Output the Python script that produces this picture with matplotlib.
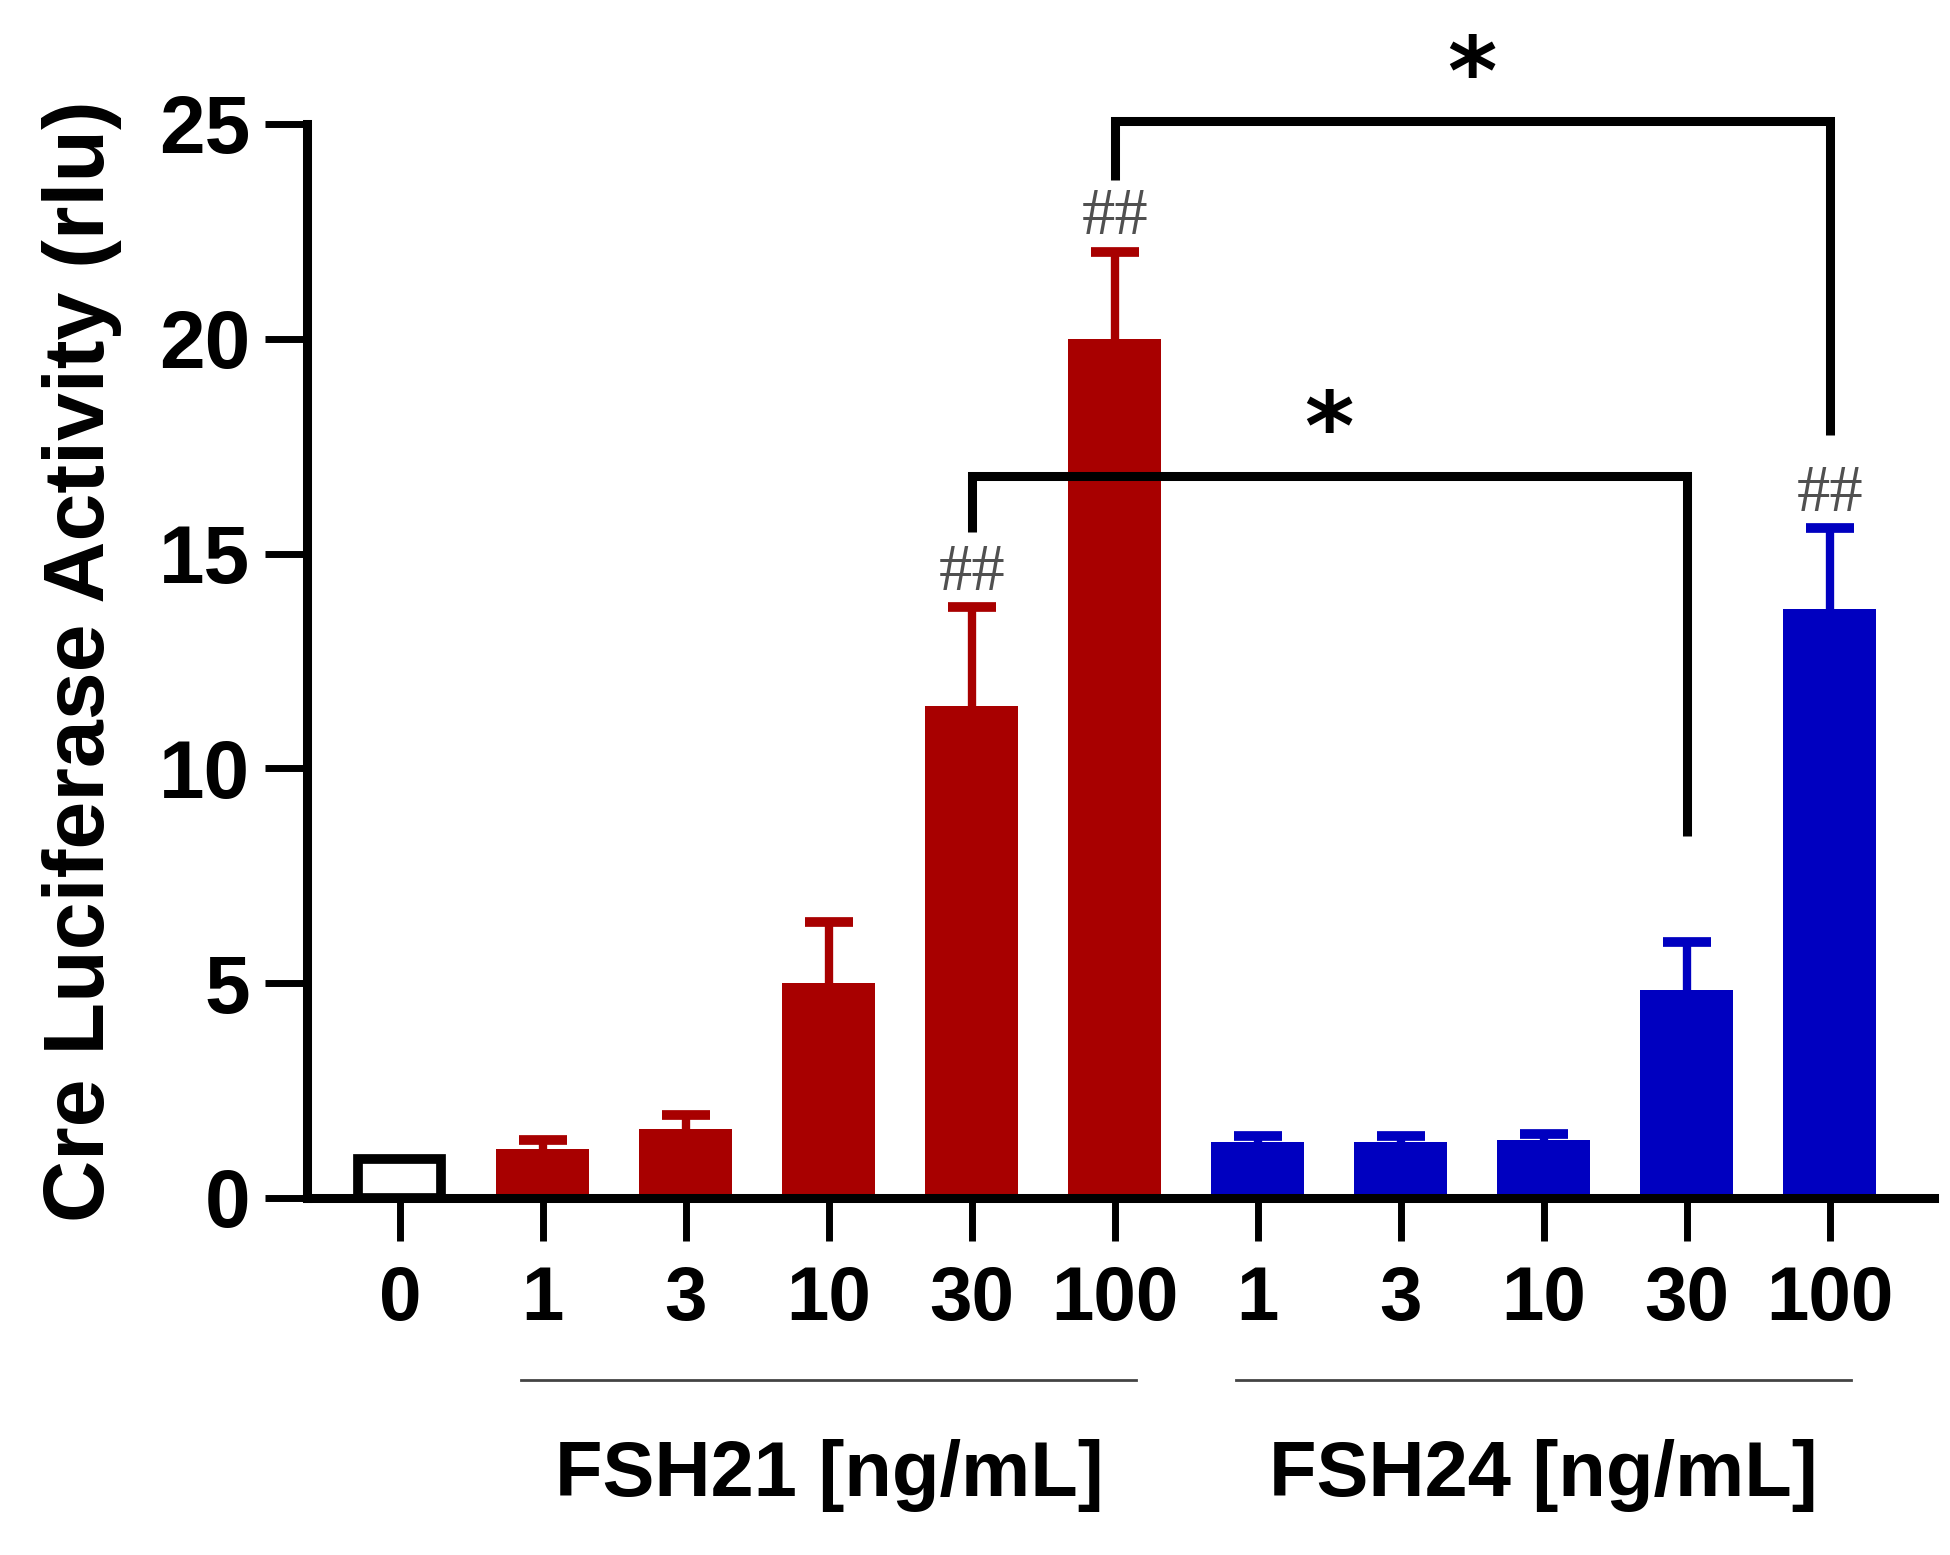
import numpy as np
import matplotlib
matplotlib.use('Agg')
import matplotlib.pyplot as plt
from matplotlib import transforms

plt.rcParams['font.family'] = ['Liberation Sans', 'DejaVu Sans']

# ---------------- data ----------------
tick_labels = ['0', '1', '3', '10', '30', '100', '1', '3', '10', '30', '100']
values = [0.9, 1.15, 1.6, 5.0, 11.45, 20.0, 1.3, 1.3, 1.35, 4.85, 13.7]
errors = [0.0, 0.2, 0.33, 1.43, 2.3, 2.03, 0.15, 0.15, 0.15, 1.1, 1.9]
group_labels = ['FSH21 [ng/mL]', 'FSH24 [ng/mL]']
group_members = [[1, 2, 3, 4, 5], [6, 7, 8, 9, 10]]
hash_marks = [4, 5, 10]            # bars flagged with "##"
comparisons = [(4, 9, '*'), (5, 10, '*')]
yticks = [0, 5, 10, 15, 20, 25]

# ---------------- style ----------------
RED = '#A80000'
BLUE = '#0000C0'
group_colors = [RED, BLUE]
W, H = 1950, 1555

fig = plt.figure(figsize=(W / 100, H / 100), dpi=100)
ax = fig.add_axes([307 / W, 1 - 1198 / H, (1934 - 307) / W, (1198 - 124) / H])

x = np.arange(len(values))
colors = ['white'] * len(values)
for g, members in enumerate(group_members):
    for m in members:
        colors[m] = group_colors[g]

# control bar (open)
ax.bar(x[0], values[0], width=0.58, facecolor='white', edgecolor='black',
       linewidth=7, zorder=2)
# treated bars
ax.bar(x[1:], values[1:], width=0.65, color=colors[1:], linewidth=0, zorder=2)

# upper-only error bars
for i in range(1, len(values)):
    eb = ax.errorbar(x[i], values[i], yerr=[[0], [errors[i]]], fmt='none',
                     ecolor=colors[i], elinewidth=6, capsize=17, capthick=7,
                     zorder=1.5)
    for c in eb[1]:
        if np.allclose(c.get_ydata(), values[i]):
            c.set_visible(False)

# axes styling
for s in ['top', 'right']:
    ax.spines[s].set_visible(False)
for s in ['left', 'bottom']:
    ax.spines[s].set_linewidth(6.5)
ax.set_xlim(-0.65, 10.73)
ax.set_ylim(0, 25)
ax.set_yticks(yticks)
ax.set_yticklabels([str(t) for t in yticks], fontsize=59, fontweight='bold')
ax.set_xticks(x)
ax.set_xticklabels(tick_labels, fontsize=55, fontweight='bold')
ax.tick_params(axis='y', length=30, width=5, pad=11)
ax.tick_params(axis='x', length=31, width=5, pad=17)

ax.set_ylabel('Cre Luciferase Activity (rlu)', fontsize=62, fontweight='bold')
ax.yaxis.set_label_coords(-0.114, 0.5)

# group underlines & labels
trans = transforms.blended_transform_factory(ax.transData, fig.transFigure)
for g, members in enumerate(group_members):
    c = np.mean([x[m] for m in members])
    ax.plot([c - 2.15, c + 2.15], [1 - 1380 / H] * 2, transform=trans,
            clip_on=False, color='#444444', lw=2)
    ax.text(c, 1 - 1496 / H, group_labels[g], transform=trans, ha='center',
            va='baseline', fontsize=56, fontweight='bold')

# "##" marks
for i in hash_marks:
    ax.text(x[i], values[i] + errors[i] + 0.4, '##', ha='center', va='baseline',
            fontsize=48, color='#505050', family=['Liberation Serif', 'DejaVu Serif'],
            clip_on=False)

# significance brackets
bracket_levels = [16.8, 25.07]
left_bottoms = [15.5, 23.7]
right_bottoms = [8.43, 17.76]
for k, (a, b, lab) in enumerate(comparisons):
    yl = bracket_levels[k]
    ax.plot([x[a], x[a], x[b], x[b]], [left_bottoms[k], yl, yl, right_bottoms[k]],
            color='black', lw=6.5, clip_on=False, solid_joinstyle='miter',
            solid_capstyle='butt', zorder=3)
    ax.text((x[a] + x[b]) / 2, yl + 0.4, lab, ha='center', va='baseline',
            fontsize=68, fontweight='bold', family=['DejaVu Sans'], clip_on=False)

fig.savefig('out.png', dpi=100, facecolor='white')
